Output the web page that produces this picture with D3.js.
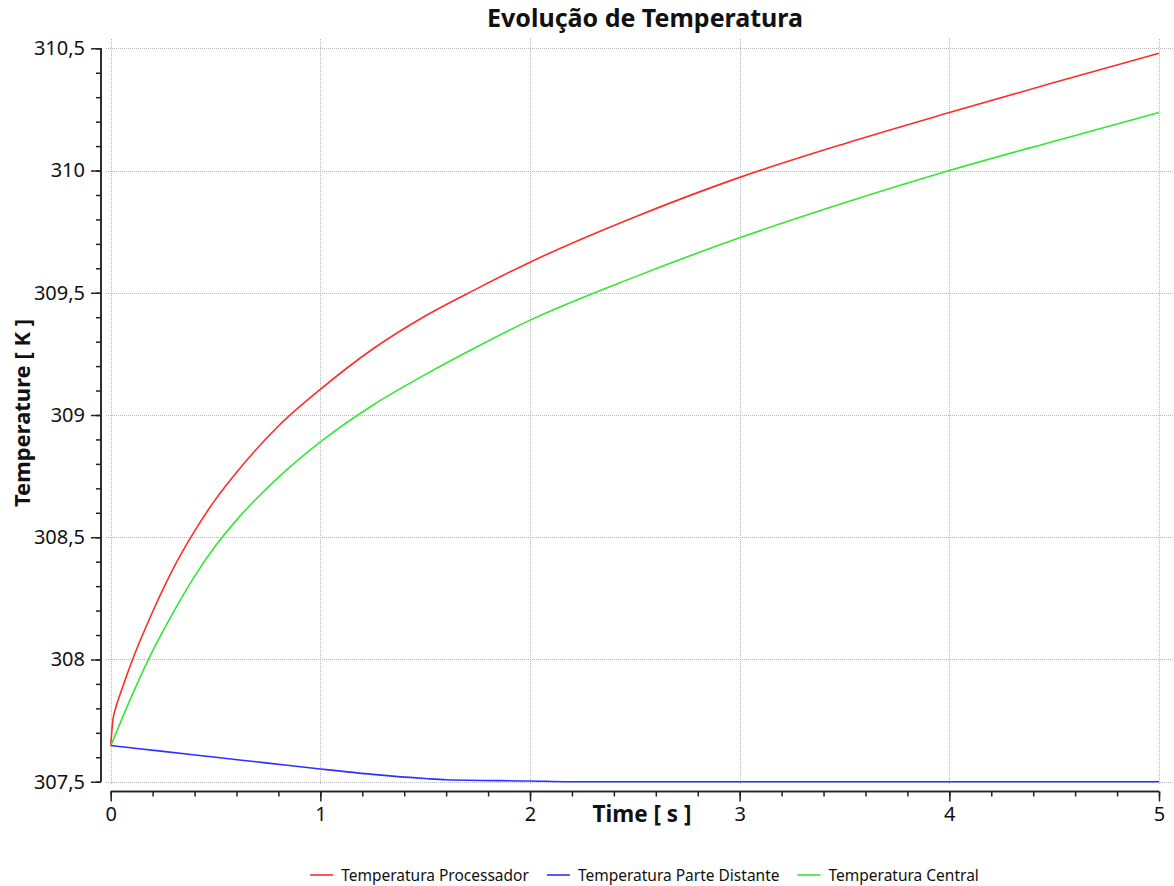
<!DOCTYPE html>
<html>
<head>
<meta charset="utf-8">
<script src="https://cdn.jsdelivr.net/npm/d3@7"></script>
<style>
  html, body { margin: 0; padding: 0; background: #fff; }
  svg { display: block; }
</style>
</head>
<body>
<svg id="chart" width="1174" height="886"></svg>
<script>
// ---------- data ----------
const title = "Evolução de Temperatura";
const xTitle = "Time [ s ]";
const yTitle = "Temperature [ K ]";
const seriesNames = ["Temperatura Processador", "Temperatura Parte Distante", "Temperatura Central"];

const timeProcessador = [0, 0.01, 0.02, 0.05, 0.1, 0.2, 0.3, 0.4, 0.5, 0.6, 0.8, 1.0, 1.25, 1.5, 1.75, 2.0, 2.5, 3.0, 3.5, 4.0, 4.5, 5.0];
const tempProcessador = [307.646, 307.75, 307.79, 307.87, 307.99, 308.195, 308.375, 308.525, 308.655, 308.765, 308.955, 309.105, 309.27, 309.405, 309.518, 309.625, 309.81, 309.972, 310.11, 310.237, 310.36, 310.48];

const timeDistante = [0, 0.25, 0.5, 0.75, 1.0, 1.25, 1.5, 1.6, 2.0, 2.2, 3.0, 4.0, 5.0];
const tempDistante = [307.648, 307.624, 307.6, 307.576, 307.552, 307.53, 307.513, 307.508, 307.503, 307.5, 307.5, 307.5, 307.5];

const timeCentral = [0, 0.05, 0.1, 0.2, 0.3, 0.4, 0.5, 0.6, 0.8, 1.0, 1.25, 1.5, 1.75, 2.0, 2.5, 3.0, 3.5, 4.0, 4.5, 5.0];
const tempCentral = [307.646, 307.75, 307.85, 308.035, 308.195, 308.34, 308.465, 308.57, 308.745, 308.89, 309.04, 309.165, 309.28, 309.388, 309.565, 309.725, 309.868, 310.0, 310.12, 310.237];

const xTicks = [0, 1, 2, 3, 4, 5];
const yTicks = [307.5, 308, 308.5, 309, 309.5, 310, 310.5];
const seriesColors = ["#ff2b2b", "#2f2fff", "#33e833"];

// ---------- layout ----------
const svg = d3.select("#chart");
const W = 1174, H = 886;
const font = "'Noto Sans', 'Open Sans', sans-serif";

const x = d3.scaleLinear().domain([0, 5]).range([110.7, 1159]);
const y = d3.scaleLinear().domain([307.5, 310.5]).range([781.7, 48.3]);
const fmt = v => d3.format("~g")(v).replace(".", ",");

// grid
const grid = svg.append("g").attr("stroke", "#b8b8b8").attr("stroke-width", 1).attr("stroke-dasharray", "1,1");
grid.selectAll("line.h").data(yTicks).join("line")
  .attr("x1", 106).attr("x2", W)
  .attr("y1", d => Math.round(y(d)) + 0.5).attr("y2", d => Math.round(y(d)) + 0.5);
grid.selectAll("line.v").data(xTicks).join("line")
  .attr("x1", d => Math.round(x(d)) + 0.5).attr("x2", d => Math.round(x(d)) + 0.5)
  .attr("y1", 39).attr("y2", 785);

// y axis
const yAxisX = 101;
const yMajor = d3.axisLeft(y).tickValues(yTicks).tickSize(10).tickPadding(6).tickFormat(fmt);
const yMinorVals = d3.range(307.5, 310.5001, 0.1).map(v => +v.toFixed(2));
const yMinor = d3.axisLeft(y).tickValues(yMinorVals).tickSize(5).tickFormat("");
const gyMinor = svg.append("g").attr("transform", `translate(${yAxisX},0)`).call(yMinor);
const gy = svg.append("g").attr("transform", `translate(${yAxisX},0)`).call(yMajor);
[gy, gyMinor].forEach(g => {
  g.select(".domain").attr("d", `M0,${y(310.5)}V${y(307.5)}`).attr("stroke", "#222").attr("stroke-width", 1.5);
  g.selectAll(".tick line").attr("stroke", "#222").attr("stroke-width", 1.5);
});
gy.selectAll(".tick text").attr("font-family", font).attr("font-size", 20).attr("fill", "#111");

// x axis
const xAxisY = 791.5;
const xMajor = d3.axisBottom(x).tickValues(xTicks).tickSize(10).tickPadding(5).tickFormat(fmt);
const xMinorVals = d3.range(0, 5.0001, 0.2).map(v => +v.toFixed(2));
const xMinor = d3.axisBottom(x).tickValues(xMinorVals).tickSize(5).tickFormat("");
const gxMinor = svg.append("g").attr("transform", `translate(0,${xAxisY})`).call(xMinor);
const gx = svg.append("g").attr("transform", `translate(0,${xAxisY})`).call(xMajor);
[gx, gxMinor].forEach(g => {
  g.select(".domain").attr("d", `M${x(0)},0H${x(5)}`).attr("stroke", "#222").attr("stroke-width", 1.5);
  g.selectAll(".tick line").attr("stroke", "#222").attr("stroke-width", 1.5);
});
gx.selectAll(".tick text").attr("font-family", font).attr("font-size", 20).attr("fill", "#111");

// series
const series = [
  { name: seriesNames[0], t: timeProcessador, v: tempProcessador, color: seriesColors[0] },
  { name: seriesNames[2], t: timeCentral, v: tempCentral, color: seriesColors[2] },
  { name: seriesNames[1], t: timeDistante, v: tempDistante, color: seriesColors[1] }
];
const line = d3.line().x(d => x(d[0])).y(d => y(d[1])).curve(d3.curveMonotoneX);
svg.append("g").selectAll("path").data(series).join("path")
  .attr("d", s => line(s.t.map((t, i) => [t, s.v[i]])))
  .attr("fill", "none")
  .attr("stroke", s => s.color)
  .attr("stroke-width", 1.6);

// titles
svg.append("text").attr("x", 645).attr("y", 27).attr("text-anchor", "middle")
  .attr("font-family", font).attr("font-weight", "bold").attr("font-size", 25).attr("fill", "#111")
  .text(title);
svg.append("text").attr("x", 642).attr("y", 822).attr("text-anchor", "middle")
  .attr("font-family", font).attr("font-weight", "bold").attr("font-size", 22.5).attr("fill", "#111")
  .text(xTitle);
svg.append("text").attr("transform", "translate(30,413) rotate(-90)").attr("text-anchor", "middle")
  .attr("font-family", font).attr("font-weight", "bold").attr("font-size", 22).attr("fill", "#111")
  .text(yTitle);

// legend
const legendOrder = [0, 1, 2];
const leg = svg.append("g");
const items = legendOrder.map(i => {
  const g = leg.append("g");
  g.append("line").attr("x1", 0).attr("x2", 23).attr("y1", 0).attr("y2", 0)
    .attr("stroke", seriesColors[i]).attr("stroke-width", 1.6);
  const t = g.append("text").attr("x", 31).attr("y", 5.5)
    .attr("font-family", font).attr("font-size", 15.5).attr("fill", "#111").text(seriesNames[i]);
  return { g, w: 31 + t.node().getComputedTextLength() };
});
const gap = 18;
const total = d3.sum(items, d => d.w) + gap * (items.length - 1);
let cx = 644.5 - total / 2;
items.forEach(it => { it.g.attr("transform", `translate(${cx},875)`); cx += it.w + gap; });
</script>
</body>
</html>
